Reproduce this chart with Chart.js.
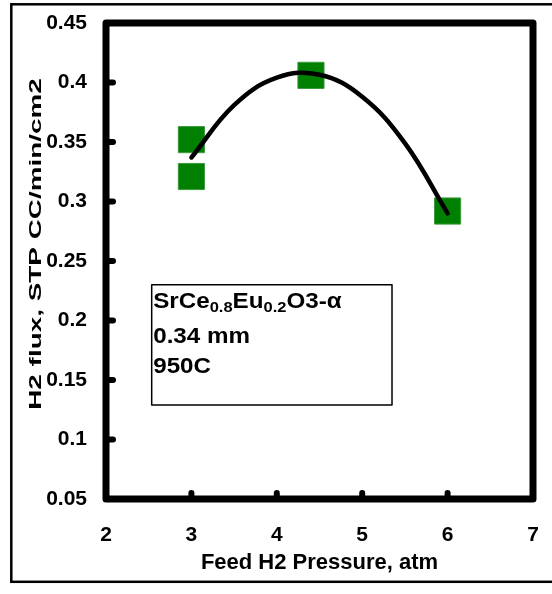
<!DOCTYPE html>
<html>
<head>
<meta charset="utf-8">
<script src="https://cdn.jsdelivr.net/npm/chart.js@4.4.1/dist/chart.umd.min.js"></script>
<style>
  html, body { margin: 0; padding: 0; background: #fff; }
  canvas { display: block; }
</style>
</head>
<body>
<canvas id="fluxChart" width="552" height="594"></canvas>
<script>
// measured points
var pressure = [3, 3, 4.4, 6];
var flux = [0.352, 0.321, 0.406, 0.292];

// trend line
var fitPressure = [3, 3.5, 4, 4.5, 5, 5.5, 6];
var fitFlux = [0.337, 0.381, 0.404, 0.4065, 0.388, 0.349, 0.290];

var xTicks = [2, 3, 4, 5, 6, 7];
var yTicks = [0.05, 0.1, 0.15, 0.2, 0.25, 0.3, 0.35, 0.4, 0.45];
var yTickLabels = ['0.05', '0.1', '0.15', '0.2', '0.25', '0.3', '0.35', '0.4', '0.45'];

var xTitle = 'Feed H2 Pressure, atm';
var yTitle = 'H2 flux, STP CC/min/cm2';

var FONT = "Arial, 'Liberation Sans', sans-serif";

// frame, inward tick marks, titles and the text box
var decorations = {
    id: 'decorations',
    afterDraw: function (chart) {
        var ctx = chart.ctx;
        var a = chart.chartArea;
        var x = chart.scales.x, y = chart.scales.y;
        ctx.save();
        ctx.strokeStyle = '#000';
        ctx.fillStyle = '#000';

        // outer border of the picture
        ctx.lineWidth = 2.5;
        ctx.strokeRect(11.3, 4.3, 600, 577.5);

        // tick marks pointing inwards
        ctx.lineWidth = 6;
        ctx.lineCap = 'round';
        y.ticks.forEach(function (t) {
            var py = y.getPixelForValue(t.value);
            ctx.beginPath();
            ctx.moveTo(a.left, py);
            ctx.lineTo(a.left + 7, py);
            ctx.stroke();
        });
        x.ticks.forEach(function (t) {
            var px = x.getPixelForValue(t.value);
            ctx.beginPath();
            ctx.moveTo(px, a.bottom);
            ctx.lineTo(px, a.bottom - 6);
            ctx.stroke();
        });

        // thick plot frame
        ctx.lineWidth = 7;
        ctx.lineJoin = 'round';
        ctx.strokeRect(a.left, a.top, a.right - a.left, a.bottom - a.top);

        // axis titles
        ctx.textAlign = 'center';
        ctx.textBaseline = 'middle';
        ctx.font = 'bold 22px ' + FONT;
        ctx.fillText(xTitle, (a.left + a.right) / 2, 563);

        ctx.save();
        ctx.translate(36, 244);
        ctx.rotate(-Math.PI / 2);
        ctx.scale(1.64, 1);
        ctx.font = 'bold 17px ' + FONT;
        ctx.fillText(yTitle, 0, 0);
        ctx.restore();

        // text box
        var bx1 = x.getPixelForValue(2.535), bx2 = x.getPixelForValue(5.349);
        var by1 = y.getPixelForValue(0.230), by2 = y.getPixelForValue(0.129);
        ctx.lineWidth = 1.5;
        ctx.strokeRect(bx1, by1, bx2 - bx1, by2 - by1);

        ctx.textAlign = 'left';
        ctx.textBaseline = 'alphabetic';
        var parts = [
            ['SrCe', 0], ['0.8', 1], ['Eu', 0], ['0.2', 1], ['O3-\u03b1', 0]
        ];
        ctx.save();
        ctx.translate(bx1 + 1.5, 0);
        ctx.scale(1.1, 1);
        var cx = 0;
        parts.forEach(function (p) {
            ctx.font = (p[1] ? 'bold 15px ' : 'bold 22px ') + FONT;
            ctx.fillText(p[0], cx, p[1] ? 312 : 308);
            cx += ctx.measureText(p[0]).width;
        });
        ctx.font = 'bold 22px ' + FONT;
        ctx.fillText('0.34 mm', 0, 343);
        ctx.fillText('950C', 0, 373);
        ctx.restore();

        ctx.restore();
    }
};

new Chart(document.getElementById('fluxChart').getContext('2d'), {
    type: 'scatter',
    data: {
        datasets: [{
            label: 'fit',
            data: fitPressure.map(function (v, i) { return { x: v, y: fitFlux[i] }; }),
            showLine: true,
            borderColor: '#000',
            borderWidth: 4.5,
            borderCapStyle: 'round',
            tension: 0.4,
            pointRadius: 0
        }, {
            label: 'H2 flux',
            data: pressure.map(function (v, i) { return { x: v, y: flux[i] }; }),
            pointStyle: 'rect',
            pointRadius: 18.5,
            backgroundColor: '#008000',
            borderColor: '#3c9a3c',
            borderWidth: 1
        }]
    },
    options: {
        responsive: false,
        animation: false,
        layout: { autoPadding: false, padding: { top: 23, right: 19, left: 0, bottom: 0 } },
        plugins: {
            legend: { display: false },
            tooltip: { enabled: false }
        },
        scales: {
            x: {
                type: 'linear',
                position: 'bottom',
                min: 2,
                max: 7,
                afterFit: function (s) {
                    s.height = 95;
                    s.paddingLeft = 0;
                    s.paddingRight = 0;
                },
                afterBuildTicks: function (s) {
                    s.ticks = xTicks.map(function (v) { return { value: v }; });
                },
                grid: { display: false, drawTicks: false },
                border: { display: false },
                ticks: {
                    padding: 24,
                    maxRotation: 0,
                    color: '#000',
                    font: { family: FONT, size: 21, weight: 'bold' }
                }
            },
            y: {
                type: 'linear',
                min: 0.05,
                max: 0.45,
                afterFit: function (s) {
                    s.width = 106;
                    s.paddingTop = 0;
                    s.paddingBottom = 0;
                },
                afterBuildTicks: function (s) {
                    s.ticks = yTicks.map(function (v) { return { value: v }; });
                },
                grid: { display: false, drawTicks: false },
                border: { display: false },
                ticks: {
                    padding: 19,
                    color: '#000',
                    font: { family: FONT, size: 21, weight: 'bold' },
                    callback: function (value, index) {
                        return yTickLabels[index];
                    }
                }
            }
        }
    },
    plugins: [decorations]
});
</script>
</body>
</html>
